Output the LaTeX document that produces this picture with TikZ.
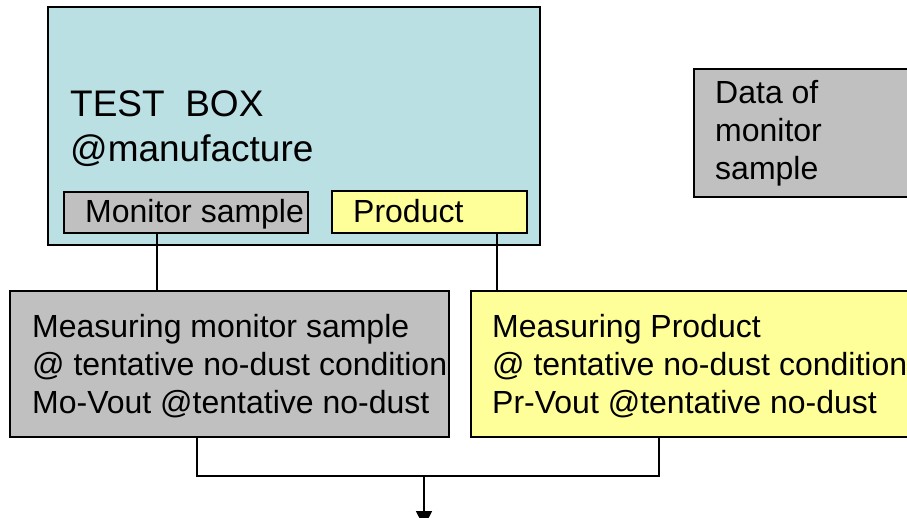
\documentclass[tikz,border=0pt]{standalone}
\usepackage{fontspec}
\setmainfont{Liberation Sans}
\usetikzlibrary{arrows.meta}
\definecolor{testcyan}{RGB}{186,224,228}
\definecolor{boxgrey}{RGB}{192,192,192}
\definecolor{boxyellow}{RGB}{255,255,153}
\tikzset{
  box/.style={draw=black, line width=2pt, inner sep=0pt, outer sep=0pt},
  greybox/.style={box, fill=boxgrey},
  yellowbox/.style={box, fill=boxyellow},
  bigtxt/.style={anchor=base west, align=left, inner sep=0pt, font=\fontsize{37}{45}\selectfont},
  txt/.style={anchor=base west, align=left, inner sep=0pt, font=\fontsize{32}{38}\selectfont},
  conn/.style={line width=2pt},
  arr/.style={line width=1.6pt, -{Triangle[length=16pt,width=16pt]}}
}
\begin{document}
\begin{tikzpicture}[x=1pt,y=-1pt]
\useasboundingbox (0,0) rectangle (907,518);
\clip (0,0) rectangle (907,518);
% boxes
\node[box, fill=testcyan, minimum width=492pt, minimum height=238pt] (test) at (294,126) {};
\node[greybox, minimum width=244pt, minimum height=41pt] (mon) at (186,212.5) {};
\node[yellowbox, minimum width=195pt, minimum height=42pt] (prod) at (429.5,212) {};
\node[greybox, minimum width=236pt, minimum height=128pt] (data) at (812,133) {};
\node[greybox, minimum width=439pt, minimum height=146pt] (meas1) at (229.5,364) {};
\node[yellowbox, minimum width=459pt, minimum height=146pt] (meas2) at (700.5,364) {};
% texts (base anchor = baseline of the last line)
\node[bigtxt] (ttest) at (70,162) {TEST\ \ BOX\\@manufacture};
\node[txt] (tmon) at (85,223) {Monitor sample};
\node[txt] (tprod) at (353,223) {Product};
\node[txt] (tdata) at (715,180) {Data of\\monitor\\sample};
\node[txt] (tmeas1) at (32,413) {Measuring monitor sample\\@ tentative no-dust condition\\Mo-Vout @tentative no-dust};
\node[txt] (tmeas2) at (492,413) {Measuring Product\\@ tentative no-dust condition\\Pr-Vout @tentative no-dust};
% connectors
\coordinate (a1) at (157,0);
\coordinate (a2) at (497,0);
\coordinate (b1) at (197,476);
\coordinate (b2) at (659,476);
\coordinate (j) at (424,476);
\coordinate (out) at (424,527);
\draw[conn] (mon.south -| a1) -- (meas1.north -| a1);
\draw[conn] (prod.south -| a2) -- (meas2.north -| a2);
\draw[conn] (meas1.south -| b1) -- (b1) -- (b2) -- (meas2.south -| b2);
\draw[arr] (j) -- (out);
\end{tikzpicture}
\end{document}
